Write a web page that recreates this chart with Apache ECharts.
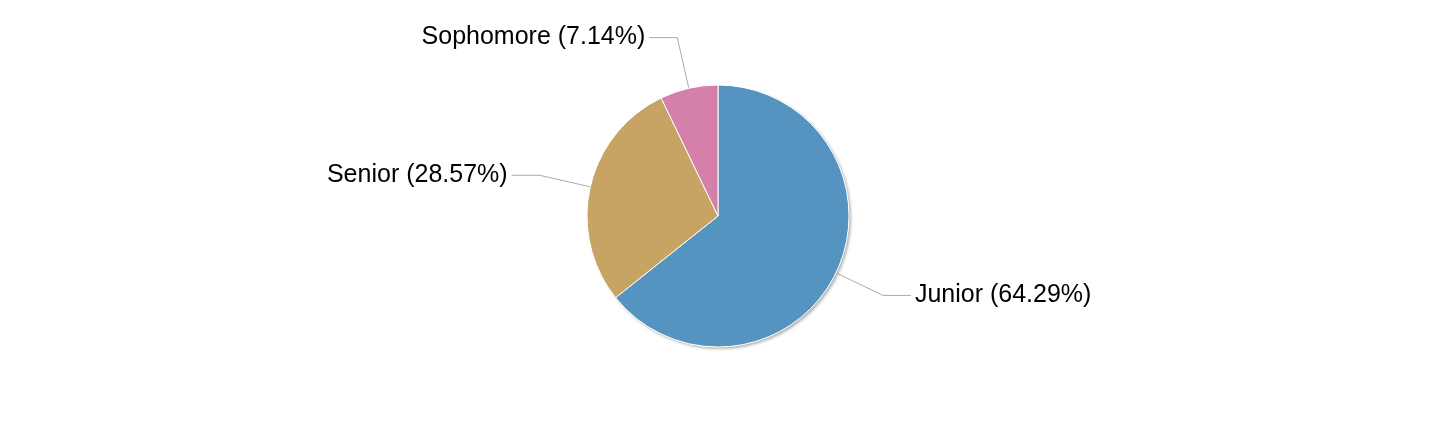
<!DOCTYPE html>
<html>
<head>
<meta charset="utf-8">
<title>Class year</title>
<script src="https://cdn.jsdelivr.net/npm/echarts@6/dist/echarts.min.js"></script>
<style>
  html, body { margin: 0; padding: 0; background: #fff; }
  #chart { width: 1436px; height: 432px; }
</style>
</head>
<body>
<div id="chart"></div>
<script>
// share of students by class year
const categories = ['Junior', 'Senior', 'Sophomore'];
const counts = [9, 4, 1];
const colors = ['#5594c0', '#c8a464', '#d580ab'];

const chart = echarts.init(document.getElementById('chart'));

const pieData = categories.map((name, i) => ({
  name: name,
  value: counts[i],
  itemStyle: { color: colors[i] }
}));
const total = counts.reduce((a, b) => a + b, 0);

chart.setOption({
  animation: false,
  series: [
    {
      // whole-disc backdrop that carries the drop shadow
      type: 'pie',
      silent: true,
      z: 1,
      center: ['50%', '50%'],
      radius: 131,
      data: [{ name: 'all', value: total }],
      itemStyle: {
        color: '#fff',
        shadowColor: 'rgba(0,0,0,0.3)',
        shadowBlur: 3,
        shadowOffsetX: 2,
        shadowOffsetY: 2
      },
      label: { show: false },
      labelLine: { show: false },
      emphasis: { disabled: true }
    },
    {
      type: 'pie',
      z: 2,
      center: ['50%', '50%'],
      radius: 131,
      startAngle: 90,
      clockwise: true,
      data: pieData,
      itemStyle: {
        borderColor: '#fff',
        borderWidth: 1
      },
      label: {
        show: true,
        formatter: p => p.name + ' (' + p.percent.toFixed(2) + '%)',
        fontFamily: 'Liberation Sans, Arial, sans-serif',
        fontSize: 25,
        color: '#000',
        distanceToLabelLine: 4
      },
      labelLine: {
        show: true,
        length: 52,
        length2: 28,
        lineStyle: { color: '#aaa', width: 1 }
      },
      emphasis: { disabled: true }
    }
  ]
});
</script>
</body>
</html>
